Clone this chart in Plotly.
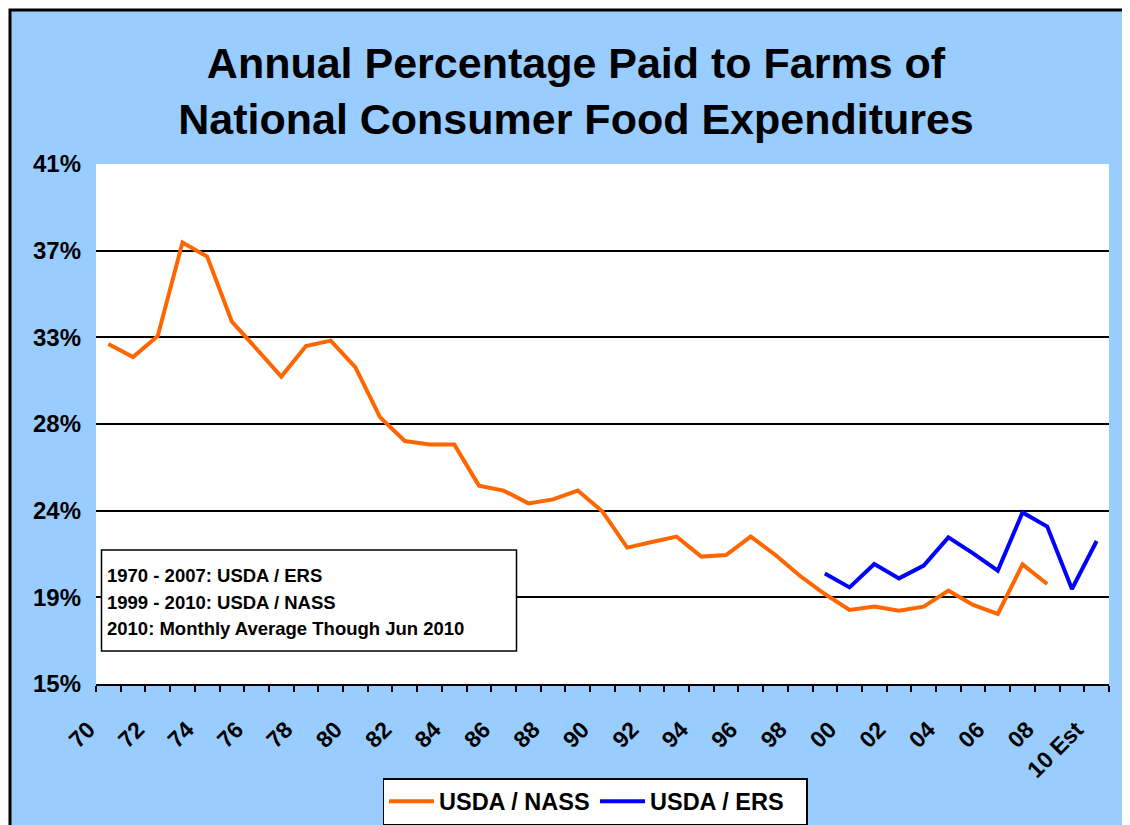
import plotly.graph_objects as go

# ---- data ----
years = list(range(1970, 2011))
tick_years = list(range(1970, 2009, 2)) + [2010]
tick_labels = ["70", "72", "74", "76", "78", "80", "82", "84", "86", "88", "90",
               "92", "94", "96", "98", "00", "02", "04", "06", "08", "10 Est"]

nass_years = list(range(1970, 2009))
nass_values = [32.0, 31.35, 32.4, 37.07, 36.37, 33.12, 31.75, 30.37, 31.9, 32.17,
               30.83, 28.33, 27.15, 26.98, 26.98, 24.92, 24.67, 24.03, 24.23, 24.67,
               23.62, 21.82, 22.1, 22.37, 21.37, 21.45, 22.37, 21.45, 20.4, 19.5,
               18.7, 18.87, 18.67, 18.87, 19.67, 18.95, 18.5, 20.98, 20.0]

ers_years = list(range(1999, 2011))
ers_values = [20.53, 19.83, 21.0, 20.28, 20.92, 22.33, 21.53, 20.67, 23.58, 22.87,
              19.75, 22.15]

y_tickvals = [15 + k * 26 / 6 for k in range(7)]
y_ticktext = ["15%", "19%", "24%", "28%", "33%", "37%", "41%"]

note_lines = ["1970 - 2007: USDA / ERS", "1999 - 2010: USDA / NASS",
              "2010: Monthly Average Though Jun 2010"]

FONT = "Arial, 'Liberation Sans', sans-serif"
BG = "#99CCFF"

fig = go.Figure()
fig.add_trace(go.Scatter(x=nass_years, y=nass_values, mode="lines", name="USDA / NASS",
                         line=dict(color="#FF6600", width=4)))
fig.add_trace(go.Scatter(x=ers_years, y=ers_values, mode="lines", name="USDA / ERS",
                         line=dict(color="#0000FF", width=4)))

OFF = 8  # page body margin
W, H = 1122, 817
# plot area in page pixels: x 96..1109, y 164..684
L = 96 - OFF
R = W - (1109 - OFF)
T = 164 - OFF
B = H - (684 - OFF)
pw, ph = W - L - R, H - T - B


def px(xp):  # page pixel -> paper x
    return (xp - OFF - L) / pw


def py(yp):  # page pixel -> paper y
    return (H - B - (yp - OFF)) / ph


shapes = [
    dict(type="rect", xref="paper", yref="paper", x0=px(10), x1=px(1150), y0=py(850), y1=py(10),
         fillcolor=BG, line=dict(color="black", width=3), layer="below"),
    dict(type="rect", xref="paper", yref="paper", x0=0, x1=1, y0=0, y1=1,
         fillcolor="white", line=dict(width=0), layer="below"),
    dict(type="rect", xref="paper", yref="paper", x0=px(101.5), x1=px(516.5), y0=py(651), y1=py(550),
         fillcolor="white", line=dict(color="black", width=1.5), layer="above"),
]

annotations = []
for i, t in enumerate(note_lines):
    annotations.append(dict(xref="paper", yref="paper", x=px(105), y=py(575.5 + 26.7 * i),
                            xanchor="left", yanchor="middle", showarrow=False, text=t,
                            font=dict(family=FONT, size=18.5, color="black", weight="bold")))

fig.update_layout(
    width=W, height=H,
    margin=dict(l=L, r=R, t=T, b=B),
    paper_bgcolor="white",
    plot_bgcolor="white",
    title=dict(text="Annual Percentage Paid to Farms of<br>National Consumer Food Expenditures",
               x=(576 - OFF) / W, xanchor="center", xref="container", y=1 - 70 / H, yanchor="top",
               font=dict(family=FONT, size=43, color="black", weight="bold")),
    xaxis=dict(range=[1969.5, 2010.5], tickmode="array", tickvals=tick_years, ticktext=tick_labels,
               tickangle=-45, ticks="", showgrid=False, zeroline=False,
               showline=True, linecolor="black", linewidth=2,
               ticklabelstandoff=21, ticklabelshift=-20, automargin=False,
               tickfont=dict(family=FONT, size=23, color="black", weight="bold"),
               minor=dict(tickmode="linear", tick0=1969.5, dtick=1, ticks="outside", ticklen=6,
                          tickcolor="black", tickwidth=1.5, showgrid=False)),
    yaxis=dict(range=[15, 41], tickmode="array", tickvals=y_tickvals, ticktext=y_ticktext,
               ticks="", showline=False, zeroline=False, showgrid=True, gridcolor="black",
               gridwidth=1.5, ticklabelstandoff=14, automargin=False,
               tickfont=dict(family=FONT, size=24, color="black", weight="bold")),
    legend=dict(orientation="h", xref="container", x=(595 - OFF) / W, xanchor="center",
                yref="container", y=(H - (778 - OFF)) / H, yanchor="top",
                bgcolor="white", bordercolor="black", borderwidth=1.5,
                entrywidth=151, itemwidth=45,
                font=dict(family=FONT, size=23.5, color="black", weight="bold")),
    shapes=shapes,
    annotations=annotations,
)

fig.write_html("out.html")
